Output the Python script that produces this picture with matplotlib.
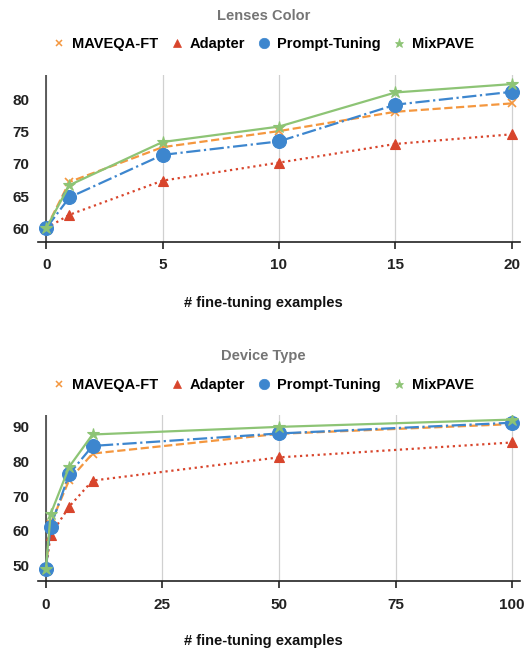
import matplotlib
matplotlib.use("Agg")
import matplotlib.pyplot as plt
from matplotlib.lines import Line2D

plt.rcParams['font.family'] = ['Liberation Sans', 'DejaVu Sans']

# ---- data ----
series_names = ["MAVEQA-FT", "Adapter", "Prompt-Tuning", "MixPAVE"]

lens_x = [0, 1, 5, 10, 15, 20]
lens_maveqa = [60.0, 67.2, 72.6, 75.1, 78.1, 79.4]
lens_adapter = [60.0, 62.1, 67.4, 70.2, 73.1, 74.6]
lens_prompt = [60.0, 64.8, 71.4, 73.5, 79.2, 81.2]
lens_mixpave = [60.0, 66.7, 73.4, 75.8, 81.1, 82.4]
lens_xticks = [0, 5, 10, 15, 20]
lens_yticks = [60, 65, 70, 75, 80]

dev_x = [0, 1, 5, 10, 50, 100]
dev_maveqa = [49.0, 62.0, 74.7, 82.3, 88.0, 90.8]
dev_adapter = [49.0, 58.8, 67.0, 74.5, 81.2, 85.5]
dev_prompt = [49.0, 61.2, 76.4, 84.5, 88.1, 91.2]
dev_mixpave = [49.0, 64.8, 78.5, 87.8, 90.0, 92.1]
dev_xticks = [0, 25, 50, 75, 100]
dev_yticks = [50, 60, 70, 80, 90]

colors = ["#F4973F", "#D8452C", "#3D86CE", "#8DC475"]
markers = ["x", "^", "o", "*"]
msizes = [6, 7, 10, 9]
lstyles = ["--", ":", "-.", "-"]

fig = plt.figure(figsize=(5.27, 6.5), dpi=100)


def panel(rect, title, x, ys, xticks, yticks, xlim, ylim, title_y, leg_y, xl_y):
    ax = fig.add_axes(rect)
    for y, c, m, ms, ls in zip(ys, colors, markers, msizes, lstyles):
        ax.plot(x, y, color=c, linestyle=ls, linewidth=1.6, marker=m,
                markersize=ms, markeredgewidth=1.2 if m == "x" else 0.8,
                markeredgecolor=c, zorder=3)
    ax.set_xlim(*xlim)
    ax.set_ylim(*ylim)
    ax.set_xticks(xticks)
    ax.set_yticks(yticks)
    for s in ["top", "right", "left"]:
        ax.spines[s].set_visible(False)
    ax.spines["bottom"].set_color("#222222")
    ax.spines["bottom"].set_linewidth(1.2)
    ax.axvline(0, color="#444444", linewidth=1.2, zorder=2)
    ax.grid(axis="x", color="#d0d0d0", linewidth=0.9, zorder=0)
    ax.tick_params(axis="y", length=0, pad=6, labelsize=11)
    ax.tick_params(axis="x", length=5, width=1.2, color="#222222", pad=7, labelsize=11)
    for lab in ax.get_xticklabels() + ax.get_yticklabels():
        lab.set_fontweight("bold")
        lab.set_color("#222222")
    fig.text(0.5, title_y, title, ha="center", va="center", fontsize=10.5,
             color="#757575", fontweight="bold")
    fig.text(0.5, xl_y, "# fine-tuning examples", ha="center", va="center",
             fontsize=10.5, fontweight="bold", color="#111111")
    handles = [Line2D([], [], color=c, marker=m, linestyle="none",
                      markersize=ms * 0.75, markeredgewidth=1.1 if m == "x" else 0.5)
               for c, m, ms in zip(colors, markers, msizes)]
    fig.legend(handles, series_names, loc="center", bbox_to_anchor=(0.5, leg_y),
               ncol=4, frameon=False, handlelength=0.8, handletextpad=0.5,
               columnspacing=0.85, prop={"weight": "bold", "size": 10.5})
    return ax


panel([0.0721, 0.628, 0.9146, 0.2565], "Lenses Color", lens_x,
      [lens_maveqa, lens_adapter, lens_prompt, lens_mixpave],
      lens_xticks, lens_yticks, (-0.35, 20.35), (57.9, 83.8),
      1 - 16 / 650, 1 - 44 / 650, 1 - 303 / 650)

panel([0.0721, 0.106, 0.9146, 0.2554], "Device Type", dev_x,
      [dev_maveqa, dev_adapter, dev_prompt, dev_mixpave],
      dev_xticks, dev_yticks, (-1.7, 101.7), (45.5, 93.4),
      1 - 356 / 650, 1 - 385 / 650, 1 - 641 / 650)

fig.savefig("out.png", dpi=100)
